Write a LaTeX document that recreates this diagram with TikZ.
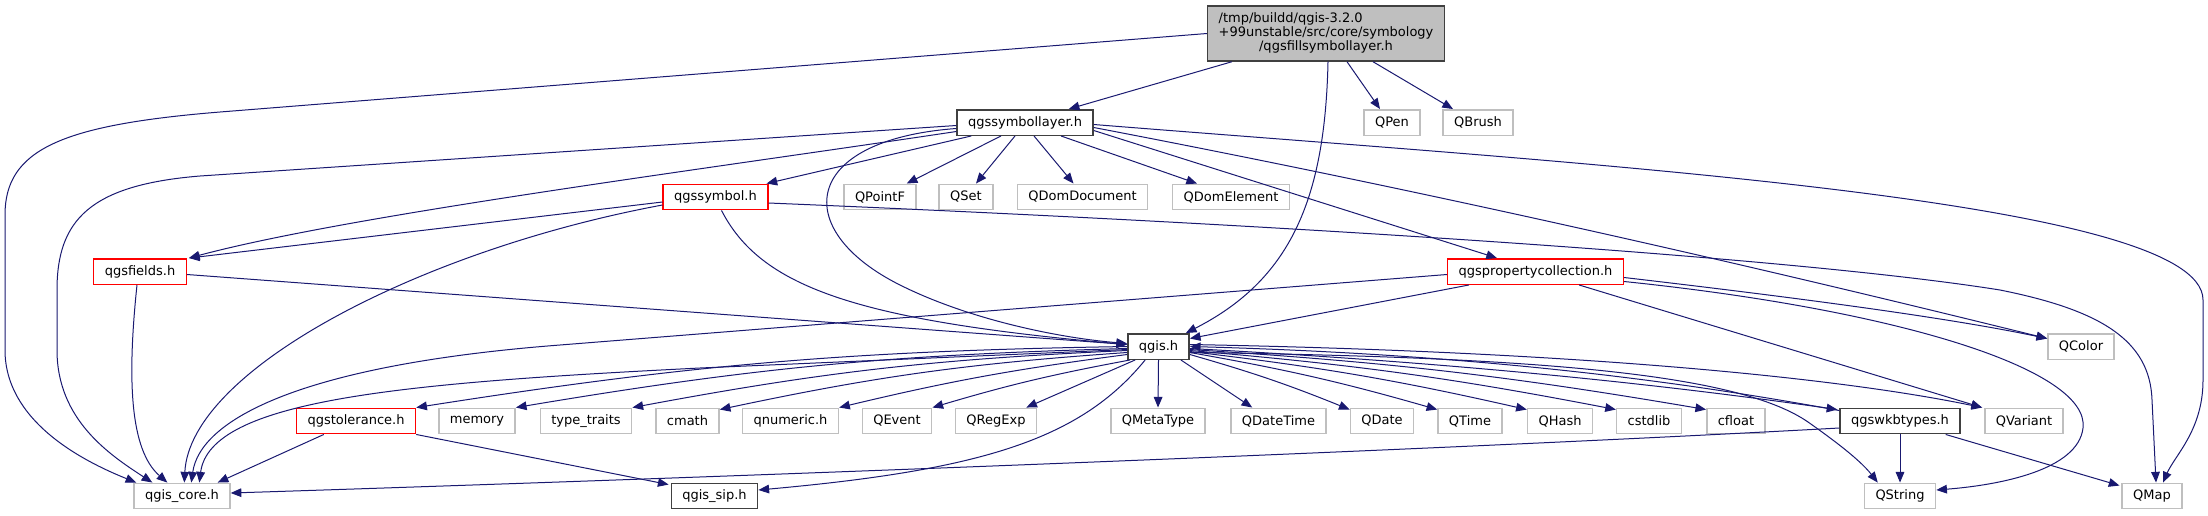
\documentclass[tikz,border=0pt]{standalone}
\usepackage{fontspec}
\setmainfont{DejaVu Sans}
\usetikzlibrary{arrows.meta,calc}

\definecolor{edgeblue}{HTML}{191970}
\definecolor{nodegrey}{HTML}{BFBFBF}
\definecolor{docgrey}{HTML}{404040}
\definecolor{truncred}{HTML}{FF0000}

\begin{document}
\begin{tikzpicture}[x=0.75pt,y=-0.75pt,
  hdr/.style={rectangle,line width=1.1pt,fill=white,inner xsep=8.25pt,inner ysep=0pt,
    minimum height=19.1pt,font=\fontsize{9.75}{11.25}\selectfont},
  ext/.style={hdr,draw=nodegrey},
  doc/.style={hdr,draw=docgrey},
  trunc/.style={hdr,draw=truncred},
  topfile/.style={hdr,draw=docgrey,fill=nodegrey,minimum height=41.25pt},
  dep/.style={draw=edgeblue,line width=0.75pt,-{Triangle[length=8pt,width=6.5pt]}}]
\useasboundingbox (0,0) rectangle (2208,515);

% rows of headers
\node[topfile] (fill) at (1326,33.5) {\renewcommand{\arraystretch}{0.95}\begin{tabular}{@{}l@{}}/tmp/buildd/qgis-3.2.0\\+99unstable/src/core/symbology\\\multicolumn{1}{@{}c@{}}{/qgsfillsymbollayer.h}\end{tabular}};
\node[doc] (symlayer) at (1025,122.5) {qgssymbollayer.h};
\node[ext] (qpen) at (1392,122.5) {QPen};
\node[ext] (qbrush) at (1478,122.5) {QBrush};
\node[trunc] (symbol) at (715.5,197) {qgssymbol.h};
\node[ext] (qpointf) at (880,197) {QPointF};
\node[ext] (qset) at (966,197) {QSet};
\node[ext] (qdomdoc) at (1082.5,197) {QDomDocument};
\node[ext] (qdomelem) at (1231,197) {QDomElement};
\node[trunc] (fields) at (140,271.5) {qgsfields.h};
\node[trunc] (propcoll) at (1535.5,271.5) {qgspropertycollection.h};
\node[doc] (qgis) at (1158.5,346.5) {qgis.h};
\node[ext] (qcolor) at (2081,346.5) {QColor};
\node[trunc] (tolerance) at (356,421) {qgstolerance.h};
\node[ext] (memory) at (477,421) {memory};
\node[ext] (typetraits) at (586,421) {type\_traits};
\node[ext] (cmath) at (687.5,421) {cmath};
\node[ext] (qnumeric) at (790.5,421) {qnumeric.h};
\node[ext] (qevent) at (897,421) {QEvent};
\node[ext] (qregexp) at (996,421) {QRegExp};
\node[ext] (qmetatype) at (1158,421) {QMetaType};
\node[ext] (qdatetime) at (1278.5,421) {QDateTime};
\node[ext] (qdate) at (1382,421) {QDate};
\node[ext] (qtime) at (1470,421) {QTime};
\node[ext] (qhash) at (1560,421) {QHash};
\node[ext] (cstdlib) at (1649,421) {cstdlib};
\node[ext] (cfloat) at (1736,421) {cfloat};
\node[doc] (wkb) at (1900,421) {qgswkbtypes.h};
\node[ext] (qvariant) at (2024,421) {QVariant};
\node[ext] (core) at (182,496) {qgis\_core.h};
\node[doc] (sip) at (714.5,496) {qgis\_sip.h};
\node[ext] (qstring) at (1900,496) {QString};
\node[ext] (qmap) at (2152,496) {QMap};

% includes of qgsfillsymbollayer.h
\draw[dep] (fill.west) -- (220,112) .. controls (60,125) and (5,150) .. (5,215) -- (5,350)
  .. controls (5,420) and (80,460) .. ($(core.north west)+(3,0)$);
\draw[dep] ($(fill.south west)+(25,0)$) -- ($(symlayer.north east)+(-25,0)$);
\draw[dep] ($(fill.south)+(2,0)$) .. controls (1325,200) and (1290,280) .. ($(qgis.north east)+(-4,0)$);
\draw[dep] ($(fill.south)+(21,0)$) -- ($(qpen.north)+(-12,0)$);
\draw[dep] ($(fill.south)+(47,0)$) -- ($(qbrush.north)+(-25,0)$);

% includes of qgssymbollayer.h
\draw[dep] ($(symlayer.west)+(0,3)$) -- (200,176) .. controls (90,185) and (57,220) .. (57,290) -- (57,350)
  .. controls (57,420) and (110,455) .. ($(core.north west)+(19,0)$);
\draw[dep] ($(symlayer.west)+(0,9)$) .. controls (700,170) and (350,215) .. ($(fields.north east)+(2,0)$);
\draw[dep] ($(symlayer.south west)+(15,0)$) -- ($(symbol.north east)+(-2,0)$);
\draw[dep] ($(symlayer.south)+(-24,0)$) -- ($(qpointf.north east)+(-10,0)$);
\draw[dep] ($(symlayer.south)+(-10,0)$) -- ($(qset.north)+(10,0)$);
\draw[dep] ($(symlayer.south)+(9,0)$) -- ($(qdomdoc.north)+(-9,0)$);
\draw[dep] ($(symlayer.south)+(36,0)$) -- ($(qdomelem.north)+(-34,0)$);
\draw[dep] ($(symlayer.west)+(0,6)$) .. controls (800,140) and (790,230) .. (900,285)
  .. controls (970,320) and (1060,338) .. ($(qgis.west)+(0,-3)$);
\draw[dep] ($(symlayer.east)+(0,8)$) -- ($(propcoll.north west)+(50,0)$);
\draw[dep] ($(symlayer.east)+(0,5)$) .. controls (1500,205) and (1850,290) .. ($(qcolor.west)+(0,-8)$);
\draw[dep] ($(symlayer.east)+(0,2)$) .. controls (1600,165) and (2203,200) .. (2203,300) -- (2203,380)
  .. controls (2203,430) and (2175,455) .. ($(qmap.north)+(11,0)$);

% includes of qgssymbol.h
\draw[dep] ($(symbol.west)+(0,5)$) -- ($(fields.north east)+(2,0)$);
\draw[dep] ($(symbol.west)+(0,8)$) .. controls (420,250) and (190,370) .. ($(core.north west)+(51,0)$);
\draw[dep] ($(symbol.south)+(6,0)$) .. controls (760,285) and (850,320) .. ($(qgis.west)+(0,-2)$);
\draw[dep] ($(symbol.east)+(0,6)$) .. controls (1300,225) and (1800,258) .. (2000,290)
  .. controls (2100,310) and (2150,340) .. (2152,400) -- ($(qmap.north)+(4,0)$);

% includes of qgsfields.h
\draw[dep] ($(fields.south)+(-3,0)$) .. controls (127,380) and (130,450) .. ($(core.north west)+(34,0)$);
\draw[dep] ($(fields.east)+(0,3)$) -- ($(qgis.west)+(0,-2)$);

% includes of qgspropertycollection.h
\draw[dep] ($(propcoll.west)+(0,3)$) -- (560,345) .. controls (300,365) and (200,420) .. ($(core.north west)+(58,0)$);
\draw[dep] ($(propcoll.south west)+(22,0)$) -- ($(qgis.east)+(0,-8)$);
\draw[dep] ($(propcoll.east)+(0,6)$) .. controls (1800,298) and (1950,318) .. ($(qcolor.west)+(0,-8)$);
\draw[dep] ($(propcoll.south east)+(-45,0)$) -- ($(qvariant.north west)+(-2,0)$);
\draw[dep] ($(propcoll.east)+(0,10)$) .. controls (1900,310) and (2090,370) .. (2083,428)
  .. controls (2078,470) and (2000,485) .. ($(qstring.east)+(0,-6)$);

% includes of qgis.h
\draw[dep] ($(qgis.west)+(0,3)$) -- (700,368) .. controls (400,383) and (210,400) .. ($(core.north west)+(66,0)$);
\draw[dep] ($(qgis.west)+(0,0)$) to[bend right=4] (tolerance.north east);
\draw[dep] ($(qgis.west)+(0,2)$) to[bend right=4] (memory.north east);
\draw[dep] ($(qgis.west)+(0,4)$) to[bend right=4] (typetraits.north east);
\draw[dep] ($(qgis.west)+(0,6)$) to[bend right=4] ($(cmath.north east)+(0,2)$);
\draw[dep] ($(qgis.west)+(0,8)$) to[bend right=3] (qnumeric.north east);
\draw[dep] ($(qgis.south west)+(3,0)$) to[bend right=3] (qevent.north east);
\draw[dep] ($(qgis.south west)+(8,0)$) -- ($(qregexp.north east)+(-11,0)$);
\draw[dep] (qgis.south) -- (qmetatype.north);
\draw[dep] ($(qgis.south east)+(-9,0)$) -- ($(qdatetime.north west)+(22,0)$);
\draw[dep] ($(qgis.east)+(0,8)$) to[bend left=3] ($(qdate.north west)+(0,2)$);
\draw[dep] ($(qgis.east)+(0,6)$) to[bend left=3] ($(qtime.north west)+(0,2)$);
\draw[dep] ($(qgis.east)+(0,5)$) to[bend left=3] ($(qhash.north west)+(0,2)$);
\draw[dep] ($(qgis.east)+(0,4)$) to[bend left=3] ($(cstdlib.north west)+(0,2)$);
\draw[dep] ($(qgis.east)+(0,3)$) to[bend left=3] ($(cfloat.north west)+(0,2)$);
\draw[dep] ($(qgis.east)+(0,2)$) .. controls (1500,365) and (1700,390) .. ($(wkb.north west)+(-2,2)$);
\draw[dep] ($(qgis.east)+(0,-2)$) .. controls (1600,352) and (1850,380) .. ($(qvariant.north west)+(-2,0)$);
\draw[dep] ($(qgis.east)+(0,6)$) .. controls (1550,357) and (1740,375) .. (1808,422)
  .. controls (1835,441) and (1860,460) .. ($(qstring.north west)+(14,0)$);
\draw[dep] ($(qgis.south west)+(18,0)$) .. controls (1080,440) and (980,470) .. ($(sip.east)+(0,-6)$);

% includes of qgstolerance.h
\draw[dep] ($(tolerance.south west)+(28,0)$) -- ($(core.north east)+(-13,0)$);
\draw[dep] (tolerance.south east) -- ($(sip.north west)+(-2,2)$);

% includes of qgswkbtypes.h
\draw[dep] ($(wkb.west)+(0,7)$) .. controls (1400,452) and (700,478) .. ($(core.east)+(0,-3)$);
\draw[dep] ($(wkb.north west)+(0,3)$) .. controls (1700,385) and (1500,355) .. (qgis.east);
\draw[dep] (wkb.south) -- (qstring.north);
\draw[dep] ($(wkb.south east)+(-15,0)$) -- ($(qmap.north west)+(-2,3)$);
\end{tikzpicture}
\end{document}
